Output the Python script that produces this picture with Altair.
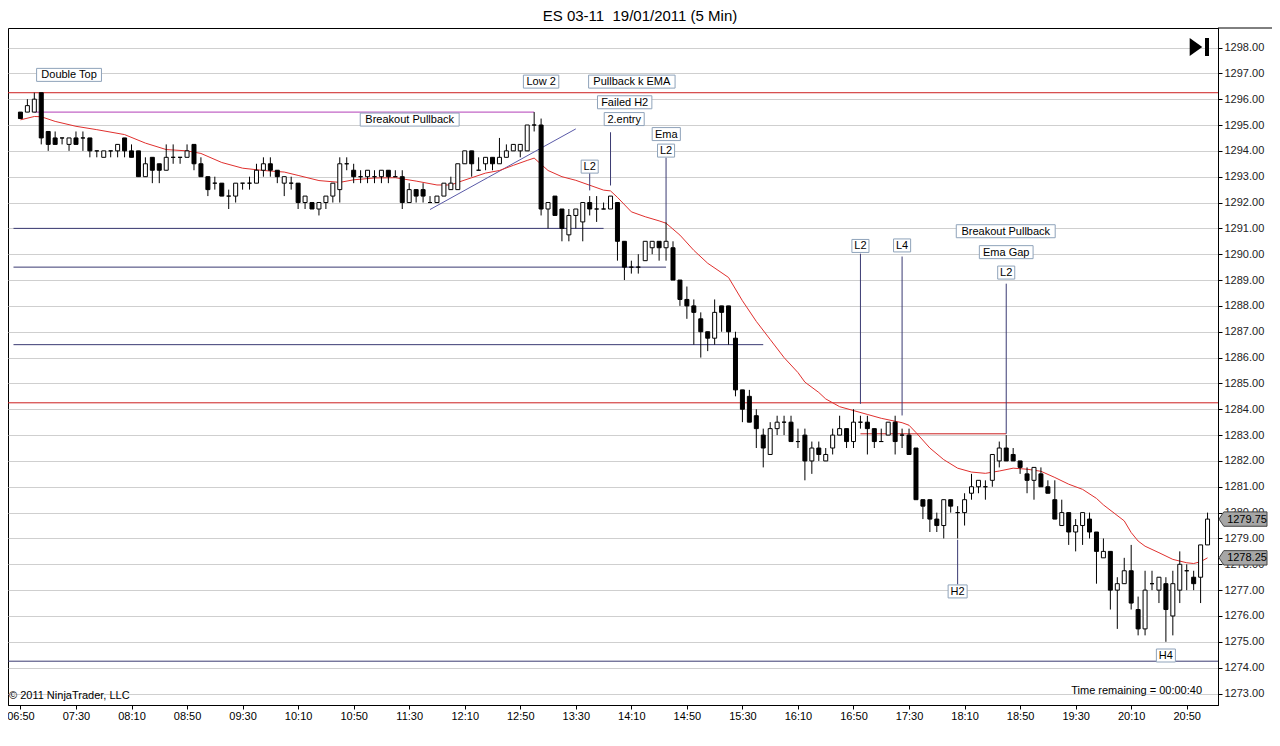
import json
import altair as alt
import pandas as pd

# ---------------- data ----------------
TITLE = "ES 03-11 \u00a019/01/2011 (5 Min)"
TIME_LABELS = ["06:50", "07:30", "08:10", "08:50", "09:30", "10:10", "10:50", "11:30",
               "12:10", "12:50", "13:30", "14:10", "14:50", "15:30", "16:10", "16:50",
               "17:30", "18:10", "18:50", "19:30", "20:10", "20:50"]
Y_TICKS = list(range(1273, 1299))

OPEN = [1295.5, 1295.5, 1295.5, 1296.25, 1294.75, 1294.5, 1294.5, 1294.25, 1294.5, 1294.5,
        1294.5, 1294.0, 1293.75, 1294.0, 1294.0, 1294.5, 1294.0, 1294.0, 1293.0, 1293.75,
        1293.5, 1293.25, 1293.75, 1293.75, 1293.75, 1294.25, 1293.5, 1293.0, 1292.75, 1292.75,
        1292.25, 1292.25, 1292.75, 1292.75, 1292.75, 1293.25, 1293.5, 1293.25, 1292.75, 1292.75,
        1292.75, 1292.0, 1292.0, 1291.75, 1292.0, 1292.25, 1292.5, 1293.5, 1293.25, 1293.0,
        1293.0, 1293.0, 1293.0, 1293.25, 1293.0, 1293.0, 1292.0, 1292.5, 1292.5, 1292.0,
        1292.0, 1292.25, 1292.5, 1292.5, 1293.5, 1294.0, 1293.25, 1293.5, 1293.75, 1293.5,
        1293.75, 1294.0, 1294.0, 1294.0, 1295.0, 1295.0, 1291.75, 1292.25, 1291.75, 1290.75,
        1291.5, 1291.25, 1292.0, 1291.75, 1291.75, 1291.75, 1292.0, 1290.5, 1289.5, 1289.5,
        1289.75, 1290.25, 1290.5, 1290.25, 1290.25, 1289.0, 1288.25, 1288.0, 1287.5, 1287.0,
        1286.75, 1288.0, 1288.0, 1286.75, 1284.75, 1284.5, 1283.75, 1283.0, 1282.25, 1283.25,
        1283.5, 1283.5, 1282.75, 1283.0, 1282.0, 1282.5, 1282.0, 1282.5, 1283.0, 1283.25,
        1282.75, 1283.5, 1283.5, 1283.25, 1282.75, 1283.0, 1283.5, 1283.0, 1283.0, 1282.5,
        1280.5, 1280.5, 1279.75, 1279.5, 1280.5, 1280.0, 1280.0, 1280.75, 1281.0, 1281.0,
        1281.25, 1282.0, 1282.5, 1282.25, 1282.0, 1281.5, 1281.25, 1281.5, 1281.0, 1280.5,
        1279.5, 1280.0, 1279.25, 1279.5, 1279.75, 1279.25, 1278.25, 1278.5, 1277.0, 1277.25,
        1277.75, 1276.25, 1275.5, 1277.25, 1277.0, 1277.25, 1276.0, 1277.0, 1277.75, 1277.5,
        1277.5, 1278.75]
HIGH = [1295.5, 1296.0, 1296.25, 1296.25, 1294.75, 1294.75, 1294.5, 1294.5, 1294.75, 1294.75,
        1294.5, 1294.0, 1294.0, 1294.0, 1294.25, 1294.5, 1294.25, 1294.0, 1293.75, 1293.75,
        1293.5, 1294.25, 1294.25, 1293.75, 1294.25, 1294.25, 1293.75, 1293.0, 1293.0, 1292.75,
        1292.5, 1292.75, 1292.75, 1293.0, 1293.5, 1293.75, 1293.75, 1293.25, 1293.0, 1293.0,
        1292.75, 1292.25, 1292.0, 1292.0, 1292.25, 1292.75, 1293.75, 1293.75, 1293.5, 1293.25,
        1293.25, 1293.25, 1293.25, 1293.25, 1293.25, 1293.25, 1292.75, 1292.5, 1292.75, 1292.25,
        1292.25, 1292.75, 1293.0, 1293.5, 1294.0, 1294.0, 1293.75, 1293.75, 1293.75, 1294.5,
        1294.25, 1294.25, 1294.25, 1295.0, 1295.5, 1295.25, 1292.0, 1292.25, 1291.75, 1291.75,
        1291.75, 1292.0, 1292.25, 1292.25, 1292.0, 1292.25, 1292.0, 1290.5, 1289.75, 1290.0,
        1290.5, 1290.5, 1290.5, 1291.25, 1290.5, 1289.0, 1288.75, 1288.25, 1287.75, 1287.0,
        1288.25, 1288.0, 1288.0, 1287.0, 1284.75, 1284.75, 1284.0, 1283.25, 1283.5, 1283.75,
        1283.75, 1283.75, 1283.25, 1283.25, 1282.75, 1282.75, 1282.5, 1283.25, 1283.75, 1283.25,
        1284.0, 1283.75, 1283.75, 1283.25, 1283.25, 1283.5, 1283.75, 1283.25, 1283.25, 1282.5,
        1280.5, 1280.5, 1280.0, 1280.5, 1280.5, 1280.25, 1280.75, 1281.5, 1281.25, 1281.25,
        1282.25, 1282.75, 1283.0, 1282.5, 1282.0, 1281.75, 1281.75, 1281.75, 1281.25, 1281.25,
        1280.5, 1280.0, 1279.75, 1280.0, 1280.0, 1279.25, 1279.0, 1278.5, 1277.5, 1278.25,
        1278.75, 1276.75, 1277.75, 1277.75, 1277.5, 1277.5, 1277.75, 1278.5, 1278.0, 1277.75,
        1278.75, 1280.0]
LOW = [1295.25, 1295.5, 1295.5, 1294.25, 1294.0, 1294.25, 1294.25, 1294.0, 1294.25, 1294.0,
       1293.75, 1293.75, 1293.75, 1293.75, 1293.75, 1293.75, 1293.75, 1293.0, 1293.0, 1292.75,
       1292.75, 1293.25, 1293.5, 1293.5, 1293.75, 1293.25, 1293.0, 1292.25, 1292.5, 1292.25,
       1291.75, 1292.0, 1292.5, 1292.5, 1292.75, 1293.0, 1293.0, 1292.75, 1292.25, 1292.5,
       1291.75, 1291.75, 1291.75, 1291.5, 1291.75, 1292.0, 1292.0, 1293.25, 1292.75, 1292.75,
       1292.75, 1292.75, 1292.75, 1292.75, 1293.0, 1291.75, 1292.0, 1292.0, 1292.0, 1292.0,
       1292.0, 1292.25, 1292.5, 1292.5, 1293.5, 1293.0, 1293.25, 1293.25, 1293.25, 1293.5,
       1293.75, 1294.0, 1293.75, 1294.0, 1294.75, 1291.5, 1291.0, 1291.5, 1290.5, 1290.5,
       1291.0, 1290.5, 1291.5, 1291.25, 1291.75, 1291.75, 1289.75, 1289.0, 1289.25, 1289.25,
       1289.75, 1290.0, 1289.75, 1289.75, 1289.0, 1288.0, 1287.5, 1286.5, 1286.0, 1286.25,
       1286.5, 1287.0, 1286.5, 1284.5, 1283.5, 1283.5, 1282.5, 1281.75, 1282.25, 1283.0,
       1283.0, 1282.75, 1282.5, 1281.25, 1281.5, 1282.0, 1282.0, 1282.25, 1283.0, 1282.5,
       1282.5, 1283.25, 1282.25, 1282.5, 1282.75, 1283.0, 1282.25, 1282.5, 1282.25, 1280.5,
       1279.75, 1279.25, 1279.25, 1279.0, 1280.0, 1279.0, 1279.5, 1280.5, 1280.75, 1280.5,
       1281.0, 1281.75, 1282.0, 1282.0, 1281.5, 1280.75, 1280.5, 1281.0, 1280.75, 1279.75,
       1279.5, 1278.75, 1278.5, 1278.75, 1279.0, 1277.25, 1278.25, 1276.25, 1275.5, 1277.25,
       1276.25, 1275.25, 1275.25, 1277.0, 1276.5, 1275.0, 1275.25, 1276.5, 1277.0, 1277.0,
       1276.5, 1278.75]
CLOSE = [1295.25, 1295.75, 1296.0, 1294.5, 1294.25, 1294.25, 1294.5, 1294.5, 1294.25, 1294.5,
         1294.0, 1294.0, 1294.0, 1294.0, 1294.25, 1294.0, 1293.75, 1293.0, 1293.5, 1293.25,
         1293.25, 1293.75, 1293.75, 1293.75, 1294.0, 1293.5, 1293.0, 1292.5, 1292.75, 1292.25,
         1292.25, 1292.75, 1292.75, 1292.75, 1293.25, 1293.5, 1293.25, 1293.0, 1293.0, 1292.75,
         1292.0, 1292.25, 1291.75, 1292.0, 1292.25, 1292.75, 1293.5, 1293.5, 1293.0, 1293.0,
         1293.25, 1293.0, 1293.25, 1293.0, 1293.0, 1292.0, 1292.5, 1292.25, 1292.25, 1292.0,
         1292.25, 1292.75, 1292.75, 1293.5, 1294.0, 1293.5, 1293.25, 1293.75, 1293.5, 1293.75,
         1294.0, 1294.25, 1294.25, 1295.0, 1295.0, 1291.75, 1292.0, 1291.5, 1291.0, 1291.5,
         1291.75, 1292.0, 1291.75, 1291.75, 1291.75, 1292.25, 1290.5, 1289.5, 1289.5, 1289.5,
         1290.5, 1290.5, 1290.25, 1290.5, 1289.0, 1288.25, 1288.0, 1287.75, 1287.0, 1286.75,
         1287.75, 1287.75, 1287.0, 1284.75, 1284.0, 1283.5, 1283.25, 1282.5, 1283.25, 1283.5,
         1283.5, 1282.75, 1282.75, 1282.0, 1282.5, 1282.25, 1282.25, 1283.0, 1283.25, 1282.75,
         1283.5, 1283.5, 1283.25, 1282.75, 1282.75, 1283.5, 1282.75, 1283.0, 1282.25, 1280.5,
         1280.25, 1279.75, 1279.5, 1280.5, 1280.25, 1280.0, 1280.5, 1281.0, 1281.25, 1281.0,
         1282.25, 1282.5, 1282.0, 1282.0, 1281.75, 1281.25, 1281.75, 1281.0, 1280.75, 1279.75,
         1280.0, 1279.25, 1279.5, 1280.0, 1279.25, 1278.5, 1278.5, 1277.0, 1277.25, 1277.75,
         1276.5, 1275.5, 1277.0, 1277.25, 1277.5, 1276.25, 1277.25, 1278.0, 1277.75, 1277.25,
         1278.75, 1279.75]

EMA_BAR = [0, 2, 3, 5, 8, 11, 15, 18, 21, 24, 26, 29, 32, 35, 38, 40, 43, 46, 48, 51, 54, 57,
           60, 62, 63, 65, 67, 69, 71, 73, 74, 76, 78, 80, 82, 84, 85, 86, 88, 90, 92, 93, 95,
           97, 99, 102, 104, 106, 108, 110, 112, 113, 115, 116, 118, 120, 122, 124, 127, 128,
           129, 131, 133, 135, 137, 139, 141, 143, 145, 147, 149, 151, 153, 155, 156, 159, 160,
           161, 162, 164, 166, 168, 169, 170, 171]
EMA_VALUE = [1295.2, 1295.33, 1295.32, 1295.14, 1294.95, 1294.82, 1294.63, 1294.3, 1294.05,
             1294.0, 1293.9, 1293.55, 1293.33, 1293.24, 1293.18, 1293.05, 1292.85, 1292.78,
             1292.88, 1292.95, 1292.96, 1292.83, 1292.68, 1292.68, 1292.78, 1292.96, 1293.14,
             1293.24, 1293.44, 1293.63, 1293.72, 1293.24, 1293.0, 1292.86, 1292.67, 1292.48,
             1292.45, 1292.2, 1291.64, 1291.45, 1291.29, 1291.2, 1290.74, 1290.15, 1289.65,
             1289.1, 1288.2, 1287.4, 1286.7, 1286.0, 1285.42, 1285.05, 1284.65, 1284.4, 1284.1,
             1283.95, 1283.8, 1283.65, 1283.48, 1283.38, 1283.1, 1282.5, 1282.05, 1281.72,
             1281.57, 1281.52, 1281.61, 1281.72, 1281.68, 1281.6, 1281.36, 1281.1, 1280.9,
             1280.55, 1280.3, 1279.68, 1279.23, 1278.9, 1278.7, 1278.45, 1278.19, 1278.06,
             1278.03, 1278.1, 1278.25]

RED_LEVELS = [1296.25, 1284.25]
NAVY_LEVELS = [1274.25]
NAVY_SEG_START = [-1, -1, -1]
NAVY_SEG_END = [84, 93, 107]
NAVY_SEG_PRICE = [1291.0, 1289.5, 1286.5]
RED_SEG_START = [121]
RED_SEG_END = [142]
RED_SEG_PRICE = [1283.05]
MAGENTA_SEG_START = [2]
MAGENTA_SEG_END = [74]
MAGENTA_SEG_PRICE = [1295.5]
TREND_BAR = [59, 80]
TREND_PRICE = [1291.73, 1294.85]

NOTE_TEXT = ["Double Top", "Breakout Pullback", "Low 2", "Pullback k EMA", "Failed H2",
             "2.entry", "Ema", "L2", "L2", "L2", "L4", "Breakout Pullback", "Ema Gap", "L2",
             "H2", "H4"]
NOTE_BAR = [7.0, 56.07, 75, 88.07, 87.04, 86.97, 93.03, 93, 82, 121, 127, 141.93, 142, 142,
            135, 165]
NOTE_PRICE = [1296.94, 1295.21, 1296.68, 1296.68, 1295.88, 1295.23, 1294.65, 1294.01, 1293.39,
              1290.32, 1290.34, 1290.89, 1290.08, 1289.29, 1276.95, 1274.47]

POINTER_BAR = [82, 85, 93, 121, 127, 142, 135]
POINTER_TOP = [1293.14, 1294.72, 1293.74, 1290.02, 1289.91, 1288.86, 1278.95]
POINTER_BOTTOM = [1292.47, 1292.66, 1291.25, 1284.21, 1283.76, 1283.05, 1277.22]

TAG_VALUES = [CLOSE[-1], 1278.25]
COPYRIGHT = "\u00a9 2011 NinjaTrader, LLC"
TIME_REMAINING = "Time remaining = 00:00:40"

# ---------------- layout ----------------
FONT = "Liberation Sans"
W, H = 1210, 677
PX_BAR = 7.0
PX_PT = 25.84
X_MIN = -7.5 / PX_BAR
X_MAX = X_MIN + W / PX_BAR
Y_MAX = 1298 + 19.5 / PX_PT
Y_MIN = Y_MAX - H / PX_PT
XS = alt.Scale(domain=[X_MIN, X_MAX], nice=False, zero=False)
YS = alt.Scale(domain=[Y_MIN, Y_MAX], nice=False, zero=False)

label_expr = json.dumps(TIME_LABELS) + "[round(datum.value / 8)]"
X_AXIS = alt.Axis(values=list(range(0, 8 * len(TIME_LABELS), 8)), labelExpr=label_expr,
                  orient="bottom", grid=False, tickSize=4, labelPadding=1,
                  domainColor="black", tickColor="black", labelColor="black",
                  labelFont=FONT, labelFontSize=11, title=None, labelFlush=False)
Y_AXIS = alt.Axis(values=Y_TICKS, format=".2f", orient="right", grid=True,
                  gridColor="#cfcfcf", gridWidth=1, tickSize=4, labelPadding=2,
                  domainColor="black", tickColor="black", labelColor="#222222",
                  labelFont=FONT, labelFontSize=11, title=None)


def X(f):
    return alt.X(f, type="quantitative", scale=XS, axis=X_AXIS)


def Y(f):
    return alt.Y(f, type="quantitative", scale=YS, axis=Y_AXIS)


n = len(OPEN)
candles = pd.DataFrame({
    "bar": list(range(n)),
    "open": OPEN,
    "close": CLOSE,
    "high": [max(h, o, c) for h, o, c in zip(HIGH, OPEN, CLOSE)],
    "low": [min(l, o, c) for l, o, c in zip(LOW, OPEN, CLOSE)],
})
ema = pd.DataFrame({"bar": EMA_BAR, "ema": EMA_VALUE})

red_full = alt.Chart(pd.DataFrame({"price": RED_LEVELS})).mark_rule(
    color="#cc1f1f", strokeWidth=1).encode(y=Y("price"))
navy_full = alt.Chart(pd.DataFrame({"price": NAVY_LEVELS})).mark_rule(
    color="#3a3a72", strokeWidth=1).encode(y=Y("price"))


def segs(start, end, price, color):
    df = pd.DataFrame({"s": start, "e": end, "price": price})
    return alt.Chart(df).mark_rule(color=color, strokeWidth=1).encode(
        x=X("s"), x2="e:Q", y=Y("price"))


navy_seg = segs(NAVY_SEG_START, NAVY_SEG_END, NAVY_SEG_PRICE, "#3a3a72")
red_seg = segs(RED_SEG_START, RED_SEG_END, RED_SEG_PRICE, "#cc1f1f")
mag_seg = segs(MAGENTA_SEG_START, MAGENTA_SEG_END, MAGENTA_SEG_PRICE, "#b23fb8")

trend = alt.Chart(pd.DataFrame({"b1": [TREND_BAR[0]], "b2": [TREND_BAR[1]],
                                "p1": [TREND_PRICE[0]], "p2": [TREND_PRICE[1]]})).mark_rule(
    color="#5a5aa8", strokeWidth=1).encode(x=X("b1"), x2="b2:Q", y=Y("p1"), y2="p2:Q")

ema_line = alt.Chart(ema).mark_line(color="#e0302e", strokeWidth=1).encode(
    x=X("bar"), y=Y("ema"))

wicks = alt.Chart(candles).mark_rule(color="black", strokeWidth=1).encode(
    x=X("bar"), y=Y("low"), y2="high:Q")
bodies = alt.Chart(candles).mark_bar(size=4, stroke="black", strokeWidth=1).encode(
    x=X("bar"), y=Y("open"), y2="close:Q",
    fill=alt.condition("datum.close < datum.open", alt.value("black"), alt.value("white")),
)

pointers = alt.Chart(pd.DataFrame({"bar": POINTER_BAR, "top": POINTER_TOP,
                                   "bottom": POINTER_BOTTOM})).mark_rule(
    color="#3a3a72", strokeWidth=1).encode(x=X("bar"), y=Y("top"), y2="bottom:Q")

# annotation boxes sized from the text (Arial metrics)
ARIAL = {"A": 667, "B": 667, "D": 722, "E": 667, "F": 611, "G": 778, "H": 722, "L": 556,
         "M": 833, "P": 667, "T": 611, "a": 556, "b": 556, "c": 500, "d": 556, "e": 556,
         "i": 222, "k": 500, "l": 222, "m": 833, "n": 556, "o": 556, "p": 556, "r": 333,
         "t": 278, "u": 556, "w": 722, "y": 500, ".": 278, " ": 278}


def text_px(s, size=11):
    return sum(ARIAL.get(ch, 556) for ch in s) * size / 1000.0


half_w = [(1.08 * text_px(t) + 4) / 2 / PX_BAR for t in NOTE_TEXT]
half_h = 6.5 / PX_PT
notes = pd.DataFrame({
    "text": NOTE_TEXT, "bar": NOTE_BAR, "price": NOTE_PRICE,
    "x1": [b - h for b, h in zip(NOTE_BAR, half_w)],
    "x2": [b + h for b, h in zip(NOTE_BAR, half_w)],
    "y1": [p - half_h for p in NOTE_PRICE],
    "y2": [p + half_h for p in NOTE_PRICE],
})
note_boxes = alt.Chart(notes).mark_rect(fill="white", stroke="#8fa3ba", strokeWidth=1).encode(
    x=X("x1"), x2="x2:Q", y=Y("y1"), y2="y2:Q")
note_text = alt.Chart(notes).mark_text(font=FONT, fontSize=11, color="black",
                                       align="center", baseline="middle", dy=0.5).encode(
    x=X("bar"), y=Y("price"), text="text:N")

# price tags on the right axis
tag_df = pd.DataFrame({"value": TAG_VALUES, "label": [f"{v:.2f}" for v in TAG_VALUES]})
tag_shape = alt.Chart(tag_df).mark_point(
    shape="M-1,0L-0.8,-0.3L1,-0.3L1,0.3L-0.8,0.3Z", size=2304, filled=True,
    fill="#a6a6a6", stroke="#444444", strokeWidth=1, opacity=1).encode(
    x=alt.value(1235), y=Y("value"))
tag_text = alt.Chart(tag_df).mark_text(font=FONT, fontSize=11, color="black",
                                       align="center", baseline="middle", dy=0.5).encode(
    x=alt.value(1239), y=Y("value"), text="label:N")

one = pd.DataFrame({"k": [0]})
title = alt.Chart(one).mark_text(text=TITLE, font=FONT, fontSize=15, color="black",
                                 align="center", baseline="middle").encode(
    x=alt.value(632), y=alt.value(-12))
copyright_t = alt.Chart(one).mark_text(text=COPYRIGHT, font=FONT, fontSize=11, color="black",
                                       align="left", baseline="middle").encode(
    x=alt.value(1), y=alt.value(668))
remaining_t = alt.Chart(one).mark_text(text=TIME_REMAINING, font=FONT, fontSize=11,
                                       color="black", align="right",
                                       baseline="middle").encode(
    x=alt.value(1194), y=alt.value(663))
icon_tri = alt.Chart(one).mark_point(shape="M-0.7,-1L0.7,0L-0.7,1Z", size=324, filled=True,
                                     fill="black", opacity=1).encode(
    x=alt.value(1188), y=alt.value(19))
icon_bar = alt.Chart(one).mark_rule(color="black", strokeWidth=4).encode(
    x=alt.value(1199), y=alt.value(10), y2=alt.value(28))
top_line = alt.Chart(one).mark_rule(color="black", strokeWidth=1).encode(
    x=alt.value(W), x2=alt.value(1264), y=alt.value(0))

chart = alt.layer(
    red_full, navy_full, navy_seg, red_seg, mag_seg, trend, ema_line,
    wicks, bodies, pointers, note_boxes, note_text, tag_shape, tag_text,
    title, copyright_t, remaining_t, icon_tri, icon_bar, top_line,
).properties(
    width=W, height=H,
    autosize=alt.AutoSizeParams(type="none"),
    padding={"left": 0, "top": 20, "right": 54, "bottom": 33},
    background="white",
).configure_view(stroke="black", strokeWidth=1)

chart.save("out.html", embed_options={"renderer": "svg", "actions": False})
